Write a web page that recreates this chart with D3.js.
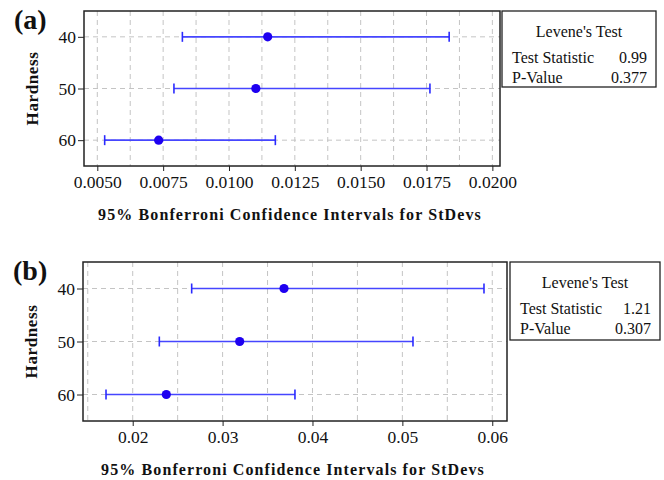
<!DOCTYPE html>
<html lang="en">
<head>
<meta charset="utf-8">
<title>Bonferroni intervals</title>
<script src="https://d3js.org/d3.v7.min.js"></script>
<style>
  body { margin: 0; background: #fff; }
  text { font-family: "Liberation Serif", "Times New Roman", serif; fill: #111; }
</style>
</head>
<body>
<svg id="chart" width="664" height="480"></svg>
<script>
// hardness levels (rows)
var levels = ["40", "50", "60"];

// panel (a)
var aLower = [0.00823, 0.00791, 0.00528];
var aStdev = [0.01147, 0.01102, 0.00733];
var aUpper = [0.01836, 0.01763, 0.01176];
var aTicks = [0.005, 0.0075, 0.01, 0.0125, 0.015, 0.0175, 0.02];
var aStat = ["0.99", "0.377"];

// panel (b)
var bLower = [0.02656, 0.02296, 0.01703];
var bStdev = [0.03683, 0.03190, 0.02374];
var bUpper = [0.05908, 0.05118, 0.03805];
var bTicks = [0.02, 0.03, 0.04, 0.05, 0.06];
var bStat = ["1.21", "0.307"];

var svg = d3.select("#chart");

function panel(o) {
  var g = svg.append("g");
  var x = d3.scaleLinear().domain(o.xdom).range([o.left, o.right]);
  var y = d3.scaleLinear().domain([-0.5, levels.length - 0.5]).range([o.top, o.bottom]);

  // dashed grid, vertical at half-tick steps
  g.selectAll(".vg").data(o.grid).enter().append("line")
    .attr("x1", d => x(d)).attr("x2", d => x(d))
    .attr("y1", o.top).attr("y2", o.bottom)
    .attr("stroke", "#c4c4c4").attr("stroke-width", 1).attr("stroke-dasharray", "5,4");
  g.selectAll(".hg").data(levels).enter().append("line")
    .attr("x1", o.left).attr("x2", o.right)
    .attr("y1", (d, i) => y(i)).attr("y2", (d, i) => y(i))
    .attr("stroke", "#c4c4c4").attr("stroke-width", 1).attr("stroke-dasharray", "5,4");

  // frame
  g.append("rect").attr("x", o.left).attr("y", o.top)
    .attr("width", o.right - o.left).attr("height", o.bottom - o.top)
    .attr("fill", "none").attr("stroke", "#222").attr("stroke-width", 1.5);

  // axes
  var xa = g.append("g").attr("transform", "translate(0," + o.bottom + ")")
    .call(d3.axisBottom(x).tickValues(o.ticks).tickFormat(o.fmt).tickSize(5).tickPadding(5));
  var ya = g.append("g").attr("transform", "translate(" + o.left + ",0)")
    .call(d3.axisLeft(d3.scalePoint().domain(levels).range([y(0), y(levels.length - 1)])).tickSize(6).tickPadding(2));
  [xa, ya].forEach(function(a) {
    a.select(".domain").remove();
    a.selectAll("line").attr("stroke", "#222");
    a.selectAll("text").attr("font-family", "Liberation Serif").attr("font-size", 17.5).attr("fill", "#111");
  });

  // intervals
  var rows = levels.map((d, i) => ({ lo: o.lower[i], sd: o.stdev[i], hi: o.upper[i], i: i }));
  g.selectAll(".iv").data(rows).enter().append("line")
    .attr("x1", d => x(d.lo)).attr("x2", d => x(d.hi))
    .attr("y1", d => y(d.i)).attr("y2", d => y(d.i))
    .attr("stroke", "#4646ff").attr("stroke-width", 1.6);
  ["lo", "hi"].forEach(function(k) {
    g.selectAll(".cap" + k).data(rows).enter().append("line")
      .attr("x1", d => x(d[k])).attr("x2", d => x(d[k]))
      .attr("y1", d => y(d.i) - 5).attr("y2", d => y(d.i) + 5)
      .attr("stroke", "#2a2aff").attr("stroke-width", 1.6);
  });
  g.selectAll(".pt").data(rows).enter().append("circle")
    .attr("cx", d => x(d.sd)).attr("cy", d => y(d.i)).attr("r", 4.6)
    .attr("fill", "#1e00f0");

  // labels
  g.append("text").attr("x", o.left - 70).attr("y", o.top + 18)
    .attr("font-size", 28).attr("font-weight", "bold").text(o.tag);
  g.append("text")
    .attr("transform", "translate(" + (o.left - 46) + "," + ((o.top + o.bottom) / 2) + ") rotate(-90)")
    .attr("text-anchor", "middle").attr("font-size", 17).attr("font-weight", "bold")
    .attr("letter-spacing", 0.6).text("Hardness");
  g.append("text").attr("x", (o.left + o.right) / 2 - 2).attr("y", o.bottom + 54)
    .attr("text-anchor", "middle").attr("font-size", 16).attr("font-weight", "bold")
    .attr("letter-spacing", 1.1)
    .text("95% Bonferroni Confidence Intervals for StDevs");

  // Levene's box
  var b = o.box;
  g.append("rect").attr("x", b[0]).attr("y", b[1]).attr("width", b[2]).attr("height", b[3])
    .attr("fill", "#fff").attr("stroke", "#222").attr("stroke-width", 1.3);
  g.append("text").attr("x", b[0] + b[2] / 2).attr("y", b[1] + 26)
    .attr("text-anchor", "middle").attr("font-size", 16).text("Levene's Test");
  g.append("text").attr("x", b[0] + 10).attr("y", b[1] + 52).attr("font-size", 16).text("Test Statistic");
  g.append("text").attr("x", b[0] + 10).attr("y", b[1] + 72).attr("font-size", 16).text("P-Value");
  g.append("text").attr("x", b[0] + b[2] - 9).attr("y", b[1] + 52)
    .attr("text-anchor", "end").attr("font-size", 16).text(o.stat[0]);
  g.append("text").attr("x", b[0] + b[2] - 9).attr("y", b[1] + 72)
    .attr("text-anchor", "end").attr("font-size", 16).text(o.stat[1]);
}

panel({
  tag: "(a)", left: 84, right: 500, top: 11, bottom: 166,
  xdom: [0.004495, 0.02029], ticks: aTicks, fmt: d3.format(".4f"),
  grid: d3.range(0, 13).map(i => 0.005 + i * 0.00125),
  lower: aLower, stdev: aStdev, upper: aUpper, stat: aStat,
  box: [502, 11, 154, 76]
});
panel({
  tag: "(b)", left: 83, right: 507, top: 262, bottom: 421,
  xdom: [0.01447, 0.06164], ticks: bTicks, fmt: d3.format(".2f"),
  grid: d3.range(0, 10).map(i => 0.015 + i * 0.005),
  lower: bLower, stdev: bStdev, upper: bUpper, stat: bStat,
  box: [510, 262, 150, 78]
});
</script>
</body>
</html>
